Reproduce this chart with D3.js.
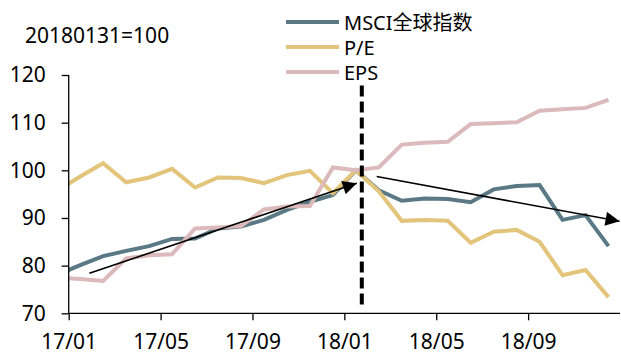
<!DOCTYPE html>
<html>
<head>
<meta charset="utf-8">
<script src="https://cdn.jsdelivr.net/npm/d3@7"></script>
<style>
  body { margin: 0; background: #fff; }
  svg { display: block; }
  text { font-family: "Noto Sans", "Noto Sans CJK SC", sans-serif; fill: #000; }
</style>
</head>
<body>
<div id="chart-area"></div>
<script>
// 月份 (YY/MM)，16/12 只用来画出起点那一小段
const months = ["16/12","17/01","17/02","17/03","17/04","17/05","17/06","17/07","17/08","17/09","17/10","17/11","17/12",
                "18/01","18/02","18/03","18/04","18/05","18/06","18/07","18/08","18/09","18/10","18/11","18/12"];
const msci = [78.1, 80.1, 82.0, 83.1, 84.1, 85.6, 85.7, 87.8, 88.2, 89.6, 91.7, 93.4, 94.8,
              100, 95.8, 93.6, 94.1, 94.0, 93.3, 96.0, 96.7, 96.9, 89.6, 90.6, 84.1];
const pe   = [95.7, 98.7, 101.5, 97.5, 98.5, 100.3, 96.4, 98.5, 98.4, 97.3, 99.0, 99.9, 95.2,
              100, 95.6, 89.4, 89.6, 89.4, 84.8, 87.1, 87.5, 85.0, 78.0, 79.1, 73.4];
const eps  = [77.5, 77.2, 76.8, 81.5, 82.2, 82.4, 87.8, 88.0, 88.3, 91.8, 92.4, 92.5, 100.6,
              100, 100.6, 105.4, 105.8, 106.0, 109.7, 109.9, 110.1, 112.5, 112.8, 113.1, 114.8];
const seriesNames = ["MSCI全球指数", "P/E", "EPS"];
const yTicks = [70, 80, 90, 100, 110, 120];
const xTickLabels = ["17/01", "17/05", "17/09", "18/01", "18/05", "18/09"];
const baseLabel = "20180131=100";
// 箭头（月轴位置, 数值）
const arrows = [
  { from: [0.90, 78.4], to: [12.54, 97.3] },
  { from: [13.41, 98.7], to: [23.98, 89.3] }
];
const markMonth = 12.76; // 2018/01/31 竖虚线

const colors = ["#5a7985", "#e3c47b", "#dcb9ba"];

const W = 621, H = 356;
const margin = { left: 68.7, right: 1, top: 75, bottom: 42.7 };
const width = W - margin.left - margin.right, height = H - margin.top - margin.bottom;

const svg = d3.select("#chart-area").append("svg")
  .attr("width", W).attr("height", H);

const g = svg.append("g")
  .attr("transform", "translate(" + margin.left + "," + margin.top + ")");

// 月份 -> 序号（17/01 = 0）
const monthNum = s => (+s.slice(0, 2) - 17) * 12 + (+s.slice(3) - 1);

const x = d3.scaleLinear().domain([0, 24]).range([0, width]);
const y = d3.scaleLinear().domain([70, 120]).range([height, 0]);

const defs = svg.append("defs");
defs.append("clipPath").attr("id", "plot")
  .append("rect").attr("x", 0).attr("y", -margin.top).attr("width", width).attr("height", H);

// 线
const line = d3.line()
  .x(d => x(monthNum(d.m) + 0.5))
  .y(d => y(d.v));

const series = [msci, pe, eps].map((vals, i) => ({
  name: seriesNames[i],
  color: colors[i],
  values: vals.map((v, j) => ({ m: months[j], v: v }))
}));

g.append("g").attr("clip-path", "url(#plot)")
  .selectAll("path")
  .data(series)
  .enter().append("path")
    .attr("fill", "none")
    .attr("stroke", d => d.color)
    .attr("stroke-width", 4)
    .attr("d", d => line(d.values));

// 坐标轴
const yaxis = d3.axisLeft(y).tickValues(yTicks).tickSize(7).tickPadding(16);
const ya = g.append("g").call(yaxis);
const xaxis = d3.axisBottom(x)
  .tickValues(xTickLabels.map(monthNum))
  .tickFormat((d, i) => xTickLabels[i])
  .tickSize(7).tickPadding(14);
const xa = g.append("g").attr("transform", "translate(0," + height + ")").call(xaxis);

[ya, xa].forEach(a => {
  a.select(".domain").attr("stroke", "#000").attr("stroke-width", 1.3);
  a.selectAll(".tick line").attr("stroke", "#000").attr("stroke-width", 1.3);
  a.selectAll("text").attr("font-size", "21px").attr("fill", "#000")
    .style("font-family", "'Noto Sans', 'Noto Sans CJK SC', sans-serif");
});
xa.select(".domain").attr("d", "M0,0H" + width);
ya.select(".domain").attr("d", "M0,0V" + height);

// 竖虚线
g.append("line")
  .attr("x1", x(markMonth)).attr("x2", x(markMonth))
  .attr("y1", y(117.8)).attr("y2", y(71.7))
  .attr("stroke", "#000").attr("stroke-width", 4)
  .attr("stroke-dasharray", "11,5");

// 箭头
defs.append("marker")
  .attr("id", "head")
  .attr("viewBox", "0 0 10 10")
  .attr("refX", 10).attr("refY", 5)
  .attr("markerUnits", "userSpaceOnUse")
  .attr("markerWidth", 17).attr("markerHeight", 14)
  .attr("orient", "auto")
  .append("path").attr("d", "M0,0L10,5L0,10Z").attr("fill", "#000");

g.selectAll(".arrow")
  .data(arrows)
  .enter().append("line")
    .attr("class", "arrow")
    .attr("x1", d => x(d.from[0])).attr("y1", d => y(d.from[1]))
    .attr("x2", d => x(d.to[0])).attr("y2", d => y(d.to[1]))
    .attr("stroke", "#000").attr("stroke-width", 1.6)
    .attr("marker-end", "url(#head)");

// 基期说明
svg.append("text")
  .attr("x", 25).attr("y", 43)
  .attr("font-size", "21px")
  .text(baseLabel);

// 图例
const legend = svg.append("g").attr("transform", "translate(286,22)");
const item = legend.selectAll("g")
  .data(series)
  .enter().append("g")
    .attr("transform", (d, i) => "translate(0," + i * 25 + ")");
item.append("line")
  .attr("x1", 0).attr("x2", 53)
  .attr("stroke", d => d.color).attr("stroke-width", 4);
item.append("text")
  .attr("x", 58).attr("y", 7.5)
  .attr("font-size", "20px")
  .text(d => d.name);
</script>
</body>
</html>
